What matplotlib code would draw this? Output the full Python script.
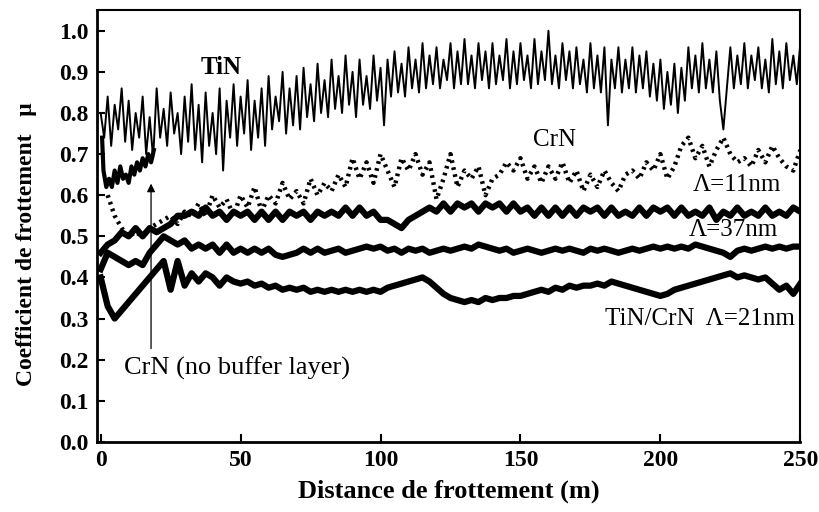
import numpy as np
import matplotlib
matplotlib.use("Agg")
import matplotlib.pyplot as plt

plt.rcParams['font.family'] = ['Liberation Serif', 'DejaVu Serif']

STEP = 2.5       # m between read-off samples for the multilayer / CrN traces
STEP_TIN = 1.25  # TiN trace is much spikier, read finer

# TiN monolayer (noisy), 0 to 250 m, one row = 10 m
tin = [
    0.80, 0.74, 0.84, 0.72, 0.82, 0.76, 0.86, 0.73,   # 0
    0.83, 0.71, 0.80, 0.74, 0.84, 0.70, 0.79, 0.69,   # 10
    0.86, 0.74, 0.81, 0.72, 0.85, 0.75, 0.80, 0.70,   # 20
    0.84, 0.73, 0.87, 0.71, 0.82, 0.68, 0.85, 0.72,   # 30
    0.80, 0.70, 0.86, 0.66, 0.83, 0.74, 0.87, 0.72,   # 40
    0.84, 0.75, 0.88, 0.71, 0.83, 0.74, 0.86, 0.72,   # 50
    0.89, 0.76, 0.84, 0.78, 0.90, 0.75, 0.86, 0.77,   # 60
    0.89, 0.76, 0.91, 0.79, 0.87, 0.78, 0.92, 0.80,   # 70
    0.88, 0.79, 0.93, 0.81, 0.89, 0.80, 0.94, 0.82,   # 80
    0.90, 0.79, 0.93, 0.82, 0.89, 0.81, 0.94, 0.83,   # 90
    0.91, 0.77, 0.93, 0.84, 0.95, 0.85, 0.92, 0.84,   # 100
    0.96, 0.86, 0.93, 0.85, 0.97, 0.86, 0.94, 0.87,   # 110
    0.96, 0.86, 0.93, 0.88, 0.97, 0.86, 0.95, 0.87,   # 120
    0.98, 0.87, 0.94, 0.86, 0.97, 0.88, 0.95, 0.86,   # 130
    0.97, 0.87, 0.94, 0.88, 0.98, 0.86, 0.95, 0.87,   # 140
    0.97, 0.88, 0.94, 0.86, 0.98, 0.87, 0.95, 0.88,   # 150
    1.00, 0.87, 0.94, 0.86, 0.97, 0.88, 0.95, 0.86,   # 160
    0.96, 0.87, 0.93, 0.85, 0.97, 0.86, 0.94, 0.85,   # 170
    0.96, 0.77, 0.93, 0.86, 0.96, 0.85, 0.93, 0.86,   # 180
    0.96, 0.85, 0.94, 0.86, 0.95, 0.84, 0.92, 0.83,   # 190
    0.93, 0.81, 0.90, 0.82, 0.92, 0.80, 0.91, 0.83,   # 200
    0.96, 0.86, 0.94, 0.85, 0.97, 0.86, 0.93, 0.85,   # 210
    0.95, 0.83, 0.76, 0.86, 0.96, 0.86, 0.94, 0.87,   # 220
    0.97, 0.86, 0.94, 0.88, 0.96, 0.86, 0.93, 0.85,   # 230
    0.98, 0.87, 0.95, 0.86, 0.97, 0.88, 0.94, 0.87,   # 240
    0.97,                                             # 250
]

# CrN monolayer (dotted trace, from 2.5 m to 250 m)
crn = [
    0.60, 0.55, 0.52, 0.50, 0.51, 0.50, 0.52, 0.53,   # 2.5
    0.54, 0.55, 0.53, 0.56, 0.55, 0.58, 0.55, 0.60,   # 22.5
    0.57, 0.59, 0.55, 0.60, 0.57, 0.62, 0.56, 0.60,   # 42.5
    0.58, 0.63, 0.59, 0.61, 0.58, 0.64, 0.60, 0.63,   # 62.5
    0.61, 0.65, 0.62, 0.69, 0.64, 0.68, 0.63, 0.70,   # 82.5
    0.66, 0.62, 0.69, 0.66, 0.70, 0.65, 0.68, 0.59,   # 102.5
    0.64, 0.70, 0.62, 0.66, 0.64, 0.67, 0.60, 0.64,   # 122.5
    0.65, 0.68, 0.66, 0.69, 0.64, 0.67, 0.63, 0.67,   # 142.5
    0.64, 0.68, 0.63, 0.66, 0.61, 0.65, 0.62, 0.66,   # 162.5
    0.63, 0.61, 0.65, 0.66, 0.64, 0.68, 0.66, 0.70,   # 182.5
    0.64, 0.67, 0.72, 0.74, 0.69, 0.72, 0.67, 0.71,   # 202.5
    0.74, 0.70, 0.68, 0.69, 0.67, 0.71, 0.68, 0.72,   # 222.5
    0.69, 0.67, 0.66, 0.71,                           # 242.5
]

# CrN without buffer layer (short run)
crn_nobuf_x = [0.5, 1, 2, 3, 4, 5, 6, 7, 8, 9, 10, 11, 12, 13, 14, 15, 16, 17, 18, 19]
crn_nobuf = [0.74, 0.66, 0.62, 0.64, 0.62, 0.66, 0.63, 0.67, 0.64, 0.65,
             0.63, 0.67, 0.65, 0.68, 0.66, 0.69, 0.67, 0.70, 0.68, 0.71]

# TiN/CrN multilayers, Lambda = 11, 37, 21 nm (0 to 250 m, one row = 20 m)
ml_11 = [
    0.46, 0.48, 0.49, 0.51, 0.50, 0.52, 0.50, 0.52,   # 0
    0.51, 0.52, 0.53, 0.55, 0.55, 0.56, 0.55, 0.57,   # 20
    0.55, 0.56, 0.54, 0.56, 0.55, 0.56, 0.54, 0.56,   # 40
    0.54, 0.56, 0.54, 0.56, 0.55, 0.56, 0.54, 0.56,   # 60
    0.55, 0.56, 0.55, 0.57, 0.55, 0.57, 0.55, 0.56,   # 80
    0.54, 0.54, 0.53, 0.52, 0.54, 0.55, 0.56, 0.57,   # 100
    0.56, 0.58, 0.56, 0.58, 0.57, 0.58, 0.56, 0.58,   # 120
    0.57, 0.58, 0.56, 0.58, 0.56, 0.57, 0.55, 0.57,   # 140
    0.55, 0.57, 0.55, 0.57, 0.55, 0.57, 0.56, 0.57,   # 160
    0.55, 0.57, 0.55, 0.56, 0.55, 0.57, 0.55, 0.57,   # 180
    0.56, 0.57, 0.55, 0.57, 0.55, 0.56, 0.55, 0.57,   # 200
    0.54, 0.56, 0.55, 0.57, 0.55, 0.56, 0.55, 0.57,   # 220
    0.55, 0.56, 0.55, 0.57, 0.56,                     # 240
]
ml_37 = [
    0.42, 0.46, 0.45, 0.44, 0.43, 0.44, 0.43, 0.46,     # 0
    0.48, 0.50, 0.49, 0.48, 0.49, 0.47, 0.48, 0.47,     # 20
    0.48, 0.46, 0.48, 0.46, 0.47, 0.46, 0.47, 0.46,     # 40
    0.47, 0.455, 0.45, 0.455, 0.46, 0.47, 0.46, 0.47,   # 60
    0.46, 0.465, 0.47, 0.46, 0.465, 0.47, 0.475, 0.47,  # 80
    0.475, 0.465, 0.47, 0.46, 0.47, 0.465, 0.47, 0.46,  # 100
    0.465, 0.47, 0.465, 0.47, 0.475, 0.47, 0.48, 0.475, # 120
    0.47, 0.465, 0.47, 0.46, 0.465, 0.47, 0.465, 0.46,  # 140
    0.465, 0.47, 0.465, 0.47, 0.465, 0.46, 0.47, 0.465, # 160
    0.47, 0.465, 0.46, 0.465, 0.47, 0.465, 0.47, 0.475, # 180
    0.47, 0.475, 0.47, 0.475, 0.47, 0.48, 0.475, 0.47,  # 200
    0.465, 0.46, 0.45, 0.465, 0.47, 0.465, 0.47, 0.475, # 220
    0.47, 0.475, 0.47, 0.475, 0.475,                    # 240
]
ml_21 = [
    0.40, 0.33, 0.30, 0.32, 0.34, 0.36, 0.38, 0.40,     # 0
    0.42, 0.44, 0.37, 0.44, 0.38, 0.41, 0.39, 0.41,     # 20
    0.40, 0.38, 0.40, 0.39, 0.385, 0.39, 0.38, 0.385,   # 40
    0.375, 0.38, 0.37, 0.375, 0.37, 0.375, 0.365, 0.37, # 60
    0.365, 0.37, 0.365, 0.37, 0.365, 0.37, 0.365, 0.37, # 80
    0.365, 0.375, 0.38, 0.385, 0.39, 0.395, 0.40, 0.39, # 100
    0.375, 0.36, 0.35, 0.345, 0.34, 0.345, 0.34, 0.35,  # 120
    0.345, 0.35, 0.35, 0.355, 0.355, 0.36, 0.365, 0.37, # 140
    0.365, 0.375, 0.37, 0.38, 0.375, 0.38, 0.38, 0.385, # 160
    0.38, 0.39, 0.385, 0.38, 0.375, 0.37, 0.365, 0.36,  # 180
    0.355, 0.36, 0.37, 0.375, 0.38, 0.385, 0.39, 0.395, # 200
    0.40, 0.405, 0.41, 0.40, 0.405, 0.40, 0.395, 0.40,  # 220
    0.385, 0.37, 0.38, 0.36, 0.385,                     # 240
]

fig = plt.figure(figsize=(8.2, 5.12), dpi=100)
ax = fig.add_axes([0.118, 0.137, 0.858, 0.843])

ax.plot(np.arange(len(tin)) * STEP_TIN, tin, color='black', lw=1.4)
ax.plot((np.arange(len(crn)) + 1) * STEP, crn, color='black', lw=3.2,
        linestyle=(0, (0.6, 1.0)))
ax.plot(crn_nobuf_x, crn_nobuf, color='black', lw=3.0)
for series in (ml_11, ml_37, ml_21):
    ax.plot(np.arange(len(series)) * STEP, series, color='black', lw=4.5)

# arrow pointing to the end of the no-buffer trace
ax.annotate('', xy=(18, 0.635), xytext=(18, 0.22),
            arrowprops=dict(arrowstyle='-|>', color='black', lw=0.9,
                            mutation_scale=12))

ax.text(43, 0.91, 'TiN', fontsize=18, fontweight='bold', ha='center', va='center')
ax.text(162, 0.735, 'CrN', fontsize=18, ha='center', va='center')
ax.text(227.5, 0.624, 'Λ=11nm', fontsize=18, ha='center', va='center')
ax.text(226, 0.515, 'Λ=37nm', fontsize=18, ha='center', va='center')
ax.text(248, 0.30, 'TiN/CrN  Λ=21nm', fontsize=18, ha='right', va='center')
ax.text(8.5, 0.18, 'CrN (no buffer layer)', fontsize=19, ha='left', va='center')

ax.set_xlim(-1.4, 250)
ax.set_ylim(0, 1.05)
ax.set_xticks([0, 50, 100, 150, 200, 250])
ax.set_yticks(np.arange(0, 1.01, 0.1))
ax.set_yticklabels([f'{v:.1f}' for v in np.arange(0, 1.01, 0.1)])
ax.tick_params(direction='in', length=6, width=1.5, labelsize=17, pad=6)
for lab in ax.get_xticklabels() + ax.get_yticklabels():
    lab.set_fontweight('bold')
for side in ['left', 'bottom']:
    ax.spines[side].set_linewidth(2.0)
for side in ['top', 'right']:
    ax.spines[side].set_linewidth(1.5)

ax.set_xlabel('Distance de frottement (m)', fontsize=19, fontweight='bold', labelpad=6)
ax.set_ylabel('Coefficient de frottement   μ', fontsize=17, fontweight='bold')
ax.yaxis.set_label_coords(-0.085, 0.458)

fig.savefig('out.png', dpi=100)
